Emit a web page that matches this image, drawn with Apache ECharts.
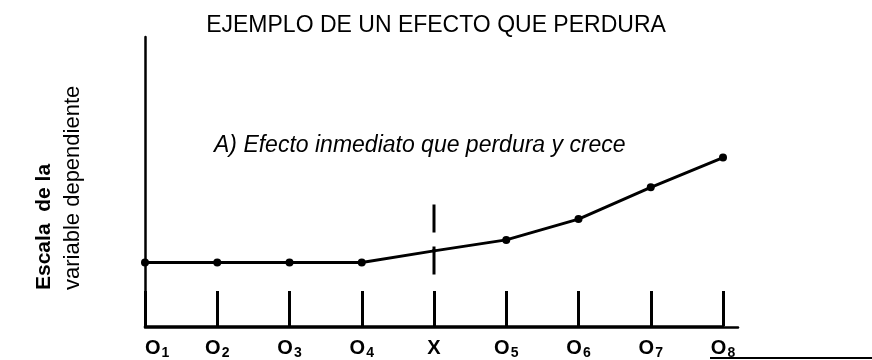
<!DOCTYPE html>
<html>
<head>
<meta charset="utf-8">
<title>Ejemplo de un efecto que perdura</title>
<script src="https://cdn.jsdelivr.net/npm/echarts@6/dist/echarts.min.js"></script>
<style>
  html, body { margin: 0; padding: 0; background: #fff; }
  #chart { width: 872px; height: 360px; }
</style>
</head>
<body>
<div id="chart"></div>
<script>
// Observation points before (O1–O4) and after (O5–O8) the intervention X
const categories = ['O1', 'O2', 'O3', 'O4', 'X', 'O5', 'O6', 'O7', 'O8'];
const scores = [2.2, 2.2, 2.2, 2.2, 2.6, 2.98, 3.7, 4.8, 5.83];
// Vertical extent of the dashed intervention marker, in scale units
const interventionCategory = 'X';
const interventionMark = [4.2, 1.62];

const titleText = 'EJEMPLO DE UN EFECTO QUE PERDURA';
const noteText = 'A) Efecto inmediato que perdura y crece';
const yTitleLines = ['Escala  de la', 'variable dependiente'];

const FONT = "'Liberation Sans', Arial, Helvetica, sans-serif";
const INK = '#000';

const chart = echarts.init(document.getElementById('chart'), null, { renderer: 'canvas' });

const interventionIndex = categories.indexOf(interventionCategory);

chart.setOption({
  backgroundColor: '#fff',
  animation: false,
  title: {
    text: titleText,
    left: 'center',
    top: 14,
    padding: 0,
    textStyle: { fontFamily: FONT, fontSize: 23, fontWeight: 'normal', color: INK }
  },
  grid: [
    { left: 145, right: 149, top: 37, bottom: 33 },
    { left: 145, right: 134, top: 37, bottom: 33 }
  ],
  xAxis: [
    {
      type: 'category',
      gridIndex: 0,
      data: categories,
      boundaryGap: false,
      axisLine: { show: true, lineStyle: { color: INK, width: 2.5 } },
      axisTick: { show: true, inside: true, length: 35, lineStyle: { color: INK, width: 3 } },
      axisLabel: {
        margin: 12,
        interval: 0,
        alignMinLabel: 'left',
        formatter: function (v) {
          return v.length > 1 ? '{o|' + v[0] + '}{s|' + v.slice(1) + '}' : '{o|' + v + '}';
        },
        rich: {
          o: { fontFamily: FONT, fontSize: 20, fontWeight: 'bold', color: INK, lineHeight: 22, verticalAlign: 'top' },
          s: { fontFamily: FONT, fontSize: 14, fontWeight: 'bold', color: INK, lineHeight: 14, verticalAlign: 'bottom', padding: [10, 0, 0, 1] }
        }
      },
      splitLine: { show: false }
    },
    {
      type: 'value',
      gridIndex: 1,
      min: 0,
      max: 1,
      axisLine: { show: true, onZero: false, lineStyle: { color: INK, width: 2.5 } },
      axisTick: { show: false },
      axisLabel: { show: false },
      splitLine: { show: false }
    }
  ],
  yAxis: [
    {
      type: 'value',
      gridIndex: 0,
      min: 0,
      max: 10,
      axisLine: { show: true, lineStyle: { color: INK, width: 2.5 } },
      axisTick: { show: false },
      axisLabel: { show: false },
      splitLine: { show: false }
    },
    {
      type: 'value',
      gridIndex: 1,
      min: 0,
      max: 10,
      show: false
    }
  ],
  series: [
    {
      type: 'line',
      xAxisIndex: 0,
      yAxisIndex: 0,
      data: scores,
      symbol: 'circle',
      symbolSize: function (val, params) {
        return params.dataIndex === interventionIndex ? 4 : 8;
      },
      itemStyle: { color: INK },
      lineStyle: { color: INK, width: 3 },
      z: 3
    },
    {
      type: 'line',
      xAxisIndex: 0,
      yAxisIndex: 0,
      data: interventionMark.map(function (v) { return [interventionCategory, v]; }),
      symbol: 'none',
      lineStyle: { color: INK, width: 3, type: [28, 14] },
      z: 2
    }
  ],
  graphic: [
    {
      type: 'text',
      x: 214,
      y: 146,
      style: {
        text: noteText,
        font: 'italic 23px ' + FONT,
        fill: INK,
        textAlign: 'left',
        textVerticalAlign: 'middle'
      }
    },
    {
      type: 'text',
      x: 44,
      y: 290,
      rotation: Math.PI / 2,
      style: {
        text: yTitleLines[0],
        font: 'bold 21px ' + FONT,
        fill: INK,
        textAlign: 'left',
        textVerticalAlign: 'middle'
      }
    },
    {
      type: 'text',
      x: 73,
      y: 290,
      rotation: Math.PI / 2,
      style: {
        text: yTitleLines[1],
        font: '22px ' + FONT,
        fill: INK,
        textAlign: 'left',
        textVerticalAlign: 'middle'
      }
    },
    {
      type: 'line',
      shape: { x1: 710, y1: 358, x2: 872, y2: 358 },
      style: { stroke: INK, lineWidth: 2 }
    }
  ]
});
</script>
</body>
</html>
